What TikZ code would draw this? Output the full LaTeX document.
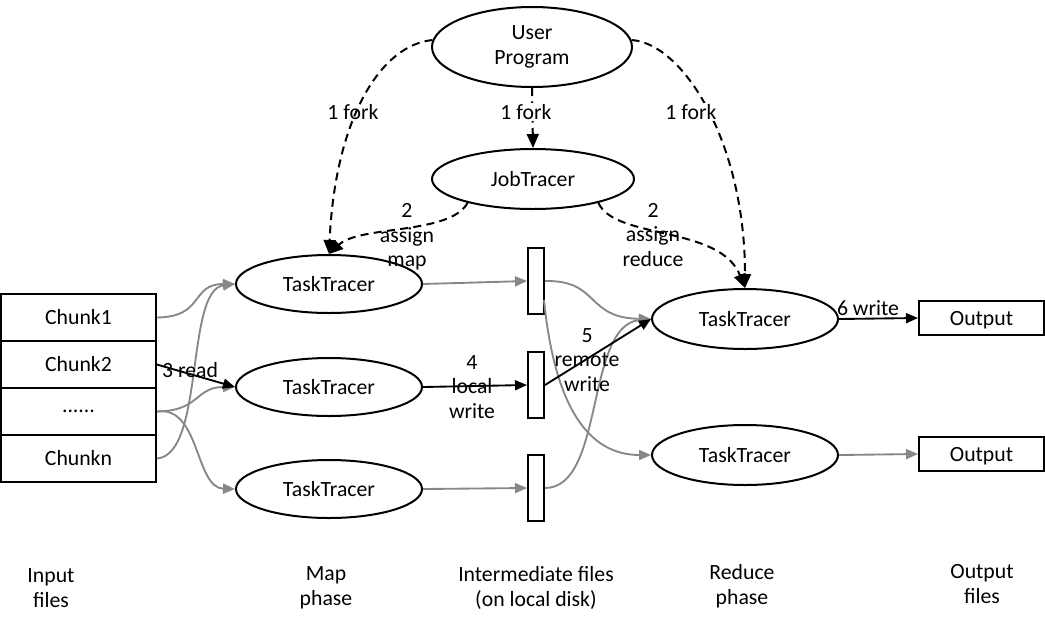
\documentclass[tikz,border=0pt]{standalone}
\usepackage{fontspec}
\setmainfont{Carlito}
\usetikzlibrary{arrows.meta,shapes.geometric}
\definecolor{lg}{RGB}{135,135,135}
\begin{document}
\begin{tikzpicture}[x=0.75pt,y=-0.75pt,
  every node/.style={font=\fontsize{16.3}{18.5}\selectfont},
  ell/.style={draw,ellipse,line width=1.5pt,inner sep=0pt},
  box/.style={draw,rectangle,line width=1.5pt,inner sep=0pt},
  lbl/.style={align=center,inner sep=1pt},
  tip/.style={-{Triangle[length=9pt,width=7.5pt]}},
  blk/.style={tip,line width=1.4pt,black},
  gry/.style={tip,line width=1.4pt,lg},
  dsh/.style={-{Triangle[length=10.5pt,width=9pt]},line width=1.5pt,dash pattern=on 6pt off 4pt}]
\useasboundingbox (0,0) rectangle (1045,626);

% ellipses
\node[ell,minimum width=150pt,minimum height=60pt,align=center] (up) at (532,47) {User\\Program};
\node[ell,minimum width=151.5pt,minimum height=45pt] (jt) at (533,179) {JobTracer};
\node[ell,minimum width=139.5pt,minimum height=43.5pt] (m1) at (329,284) {TaskTracer};
\node[ell,minimum width=139.5pt,minimum height=43.5pt] (m2) at (329,387) {TaskTracer};
\node[ell,minimum width=139.5pt,minimum height=43.5pt] (m3) at (329,489) {TaskTracer};
\node[ell,minimum width=139.5pt,minimum height=45pt] (r1) at (745,319) {TaskTracer};
\node[ell,minimum width=139.5pt,minimum height=45pt] (r2) at (745,455) {TaskTracer};

% chunks
\node[box,minimum width=116pt,minimum height=35.25pt] (c1) at (78.5,317.5) {Chunk1};
\node[box,minimum width=116pt,minimum height=35.25pt] (c2) at (78.5,364.5) {Chunk2};
\node[box,minimum width=116pt,minimum height=35.25pt] (c3) at (78.5,411.5) {......};
\node[box,minimum width=116pt,minimum height=35.25pt] (c4) at (78.5,458.5) {Chunkn};

% intermediate files
\node[box,minimum width=12pt,minimum height=50pt] (f1) at (536,281) {};
\node[box,minimum width=12pt,minimum height=50pt] (f2) at (536,385) {};
\node[box,minimum width=12pt,minimum height=50pt] (f3) at (536,488) {};

% outputs
\node[box,minimum width=93.75pt,minimum height=25.5pt,text depth=0pt] (o1) at (981.5,318) {Output};
\node[box,minimum width=93.75pt,minimum height=25.5pt,text depth=0pt] (o2) at (981.5,454) {Output};

% dashed
\draw[dsh] (up.176) .. controls (380,45) and (335,120) .. (m1.north);
\draw[dsh] (up.south) -- (jt.north);
\draw[dsh] (up.4) .. controls (682,43) and (745,140) .. (r1.north);
\draw[dsh] (jt.200) .. controls (450,235) and (360,225) .. (m1.north);
\draw[dsh] (jt.340) .. controls (615,240) and (720,225) .. (r1.north);

\node[lbl] (lf1) at (353,112) {1 fork};
\node[lbl,fill=white] (lf2) at (526,112) {1 fork};
\node[lbl,fill=white] (lf3) at (691,112) {1 fork};
\node[lbl] (lam) at (407,237) {2\\assign\\map};
\node[lbl] (lar) at (653,235) {2\\assign\\reduce};

% gray input arrows
\draw[gry] (c1.east) .. controls (205,317) and (190,284) .. (m1.west);
\draw[gry] (c4.east) .. controls (205,455) and (185,290) .. (m1.west);
\draw[gry] (c3.east) .. controls (200,411) and (195,387) .. (m2.west);
\draw[gry] (c3.east) .. controls (200,405) and (195,488) .. (m3.west);
\draw[blk] (c2.east) -- (m2.west);
\node[lbl] (l3) at (190,370) {3 read};

% map to files
\draw[gry] (m1.east) -- (f1.west);
\draw[blk] (m2.east) -- (f2.west);
\draw[gry] (m3.east) -- (f3.west);
\node[lbl] (l4) at (472,387) {4\\local\\write};

% files to reduce
\draw[gry] (f1.east) .. controls (600,280) and (585,318) .. (r1.west);
\draw[gry] (544,300) .. controls (555,410) and (590,455) .. (r2.west);
\draw[gry] (f3.east) .. controls (605,488) and (585,325) .. (r1.west);
\draw[blk] (f2.east) -- (r1.west);
\node[lbl] (l5) at (587,360) {5\\remote\\write};

% reduce to output
\draw[blk] (r1.east) -- (o1.west);
\draw[gry] (r2.east) -- (o2.west);
\node[lbl] (l6) at (868,308) {6 write};

% bottom labels
\node[lbl] (b1) at (51,588) {Input\\files};
\node[lbl] (b2) at (326,588) {Map\\phase};
\node[lbl] (b3) at (536,588) {Intermediate files\\(on local disk)};
\node[lbl] (b4) at (742,586) {Reduce\\phase};
\node[lbl] (b5) at (982,584) {Output\\files};
\end{tikzpicture}
\end{document}
